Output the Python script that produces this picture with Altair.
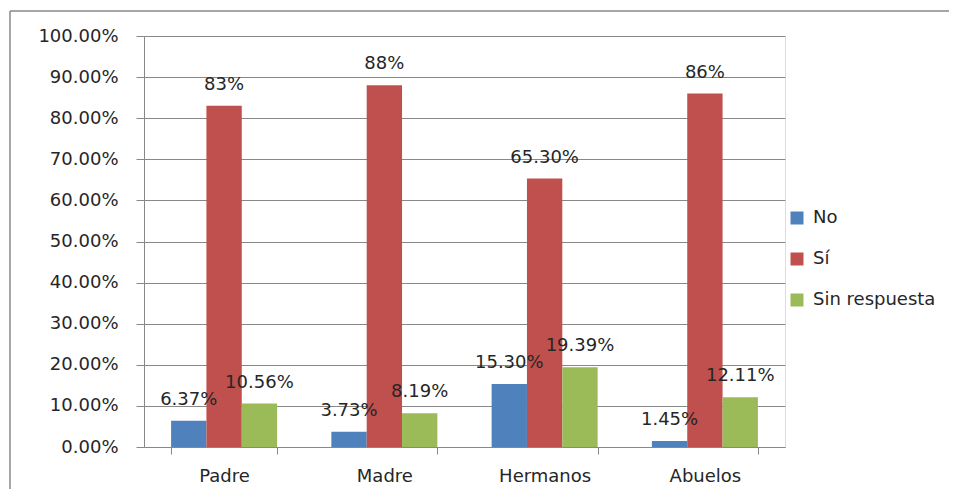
import altair as alt
import pandas as pd

categories = ["Padre", "Madre", "Hermanos", "Abuelos"]
series = ["No", "Sí", "Sin respuesta"]
colors = ["#4F81BD", "#C0504D", "#9BBB59"]

no_vals = [6.37, 3.73, 15.30, 1.45]
si_vals = [83.0, 88.0, 65.30, 86.0]
sr_vals = [10.56, 8.19, 19.39, 12.11]

no_labels = ["6.37%", "3.73%", "15.30%", "1.45%"]
si_labels = ["83%", "88%", "65.30%", "86%"]
sr_labels = ["10.56%", "8.19%", "19.39%", "12.11%"]

y_ticks = [0, 10, 20, 30, 40, 50, 60, 70, 80, 90, 100]

rows = []
for s, vals, labs in [("No", no_vals, no_labels), ("Sí", si_vals, si_labels),
                      ("Sin respuesta", sr_vals, sr_labels)]:
    for c, v, l in zip(categories, vals, labs):
        rows.append({"cat": c, "serie": s, "value": v, "label": l})
df = pd.DataFrame(rows)

FONT = "DejaVu Sans"
FS = 18
GRAY = "#888888"
TXT = "#262626"

x_enc = alt.X("cat:N", sort=categories, title=None,
              scale=alt.Scale(paddingInner=0.3385, paddingOuter=0.169),
              axis=alt.Axis(labelAngle=0, tickBand="extent", tickSize=7,
                            labelPadding=13, labelFontSize=FS, labelFont=FONT,
                            labelColor=TXT, domainColor=GRAY, tickColor=GRAY,
                            grid=False))
xo_enc = alt.XOffset("serie:N", sort=series,
                     scale=alt.Scale(paddingInner=0, paddingOuter=0))
y_enc = alt.Y("value:Q", title=None,
              scale=alt.Scale(domain=[0, 100], nice=False),
              axis=alt.Axis(values=y_ticks, labelExpr="format(datum.value, '.2f') + '%'",
                            tickSize=8, labelPadding=18, labelFontSize=FS,
                            labelFont=FONT, labelColor=TXT, domainColor=GRAY,
                            tickColor=GRAY, gridColor=GRAY, grid=True))

base = alt.Chart(df)

bars = base.mark_bar().encode(
    x=x_enc,
    xOffset=xo_enc,
    y=y_enc,
    color=alt.Color("serie:N", sort=series,
                    scale=alt.Scale(domain=series, range=colors),
                    legend=alt.Legend(title=None, orient="none", legendX=644,
                                      legendY=173, symbolType="square",
                                      symbolSize=169, symbolStrokeWidth=0,
                                      labelFontSize=FS, labelFont=FONT,
                                      labelColor=TXT, rowPadding=23,
                                      labelOffset=7, padding=0)),
)

texts = base.mark_text(baseline="middle", dy=-21, fontSize=FS, font=FONT,
                       color=TXT).encode(
    x=alt.X("cat:N", sort=categories),
    xOffset=alt.XOffset("serie:N", sort=series),
    y=alt.Y("value:Q"),
    text="label:N",
)

frame_df = pd.DataFrame({"k": [0]})
left_border = alt.Chart(frame_df).mark_rule(color=GRAY, strokeWidth=1.5).encode(
    x=alt.value(-134), y=alt.value(-25), y2=alt.value(470))
top_border = alt.Chart(frame_df).mark_rule(color=GRAY, strokeWidth=1.5).encode(
    x=alt.value(-134), x2=alt.value(830), y=alt.value(-25))

chart = alt.layer(bars, texts, left_border, top_border).properties(
    width=641, height=411,
    autosize=alt.AutoSizeParams(type="none"),
    padding={"left": 136, "top": 28, "right": 164, "bottom": 42},
).configure_view(stroke=None).configure(background="white")

chart.save("out.html", embed_options={"renderer": "svg", "actions": False})
